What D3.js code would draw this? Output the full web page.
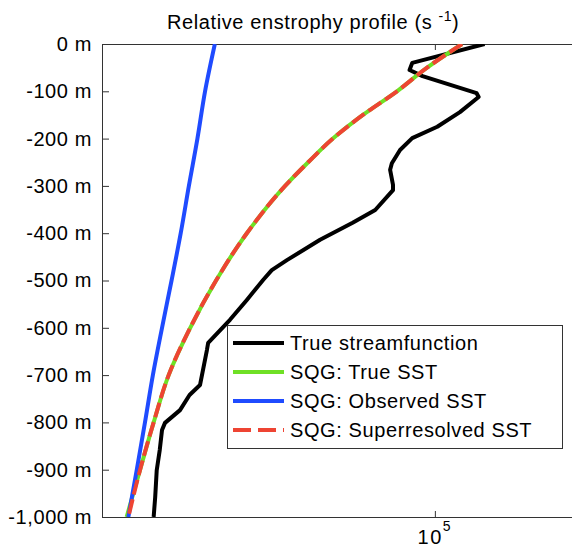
<!DOCTYPE html>
<html>
<head>
<meta charset="utf-8">
<script src="https://cdn.jsdelivr.net/npm/d3@7"></script>
<style>
  body { margin: 0; background: #fff; }
  svg { display: block; }
  text { font-family: "Liberation Sans", Arial, sans-serif; fill: #000; letter-spacing: 0.6px; }
</style>
</head>
<body>
<svg id="chart"></svg>
<script>
// depth (m) and relative enstrophy (s^-1)
const trueDepth = [0, -40, -55, -68, -104, -112, -144, -175, -199, -224, -252, -266, -298, -309, -351, -378, -414, -457, -478, -499, -541, -583, -632, -647, -721, -742, -774, -801, -816, -858, -901, -958, -1000];
const trueValue = [1.23e5, 9.1e4, 9.0e4, 9.5e4, 1.19e5, 1.20e5, 1.11e5, 1.01e5, 9.1e4, 8.65e4, 8.36e4, 8.3e4, 8.4e4, 8.4e4, 7.8e4, 7.1e4, 6.2e4, 5.4e4, 5.07e4, 4.89e4, 4.57e4, 4.26e4, 3.89e4, 3.87e4, 3.76e4, 3.6e4, 3.46e4, 3.25e4, 3.21e4, 3.18e4, 3.14e4, 3.12e4, 3.1e4];

const sqgDepth = [0, -50, -100, -150, -200, -250, -300, -400, -500, -600, -700, -800, -900, -1000];
const sqgTrueValue = [1.12e5, 9.68e4, 8.54e4, 7.41e4, 6.54e4, 5.90e4, 5.36e4, 4.57e4, 4.02e4, 3.61e4, 3.30e4, 3.10e4, 2.93e4, 2.77e4];
const sqgSuperValue = [1.12e5, 9.68e4, 8.54e4, 7.41e4, 6.54e4, 5.90e4, 5.36e4, 4.57e4, 4.02e4, 3.61e4, 3.30e4, 3.10e4, 2.93e4, 2.79e4];

const obsDepth = [0, -100, -200, -300, -400, -500, -600, -700, -800, -900, -1000];
const obsValue = [4.0e4, 3.84e4, 3.72e4, 3.59e4, 3.47e4, 3.34e4, 3.21e4, 3.09e4, 2.99e4, 2.89e4, 2.79e4];

const yTicks = [0, -100, -200, -300, -400, -500, -600, -700, -800, -900, -1000];
const xTicks = [1e5];
const legendNames = ["True streamfunction", "SQG: True SST", "SQG: Observed SST", "SQG: Superresolved SST"];

const width = 572, height = 549;
const margin = { top: 44, right: -4, bottom: 32, left: 102 };

const svg = d3.select("#chart").attr("width", width).attr("height", height);

const x = d3.scaleLog()
    .domain([2.5e4, 1.8e5])
    .range([margin.left, width - margin.right]);

const y = d3.scaleLinear()
    .domain([-1000, 0])
    .range([height - margin.bottom, margin.top]);

svg.append("clipPath").attr("id", "plot-clip")
    .append("rect")
    .attr("x", margin.left).attr("y", margin.top)
    .attr("width", x.range()[1] - margin.left)
    .attr("height", y.range()[0] - margin.top);

// Title
const title = svg.append("text")
    .attr("x", 167)
    .attr("y", 29)
    .attr("font-size", 20);
title.append("tspan").text("Relative enstrophy profile (s ");
title.append("tspan").attr("font-size", 14).attr("dy", -8).text("-1");
title.append("tspan").attr("dy", 8).text(")");

// Y axis
const fmt = d3.format(",");
const yAxis = d3.axisLeft(y)
    .tickValues(yTicks)
    .tickSizeInner(-7)
    .tickSizeOuter(0)
    .tickPadding(10)
    .tickFormat(d => (d < 0 ? "-" : "") + fmt(Math.abs(d)) + " m");

svg.append("g")
    .attr("transform", `translate(${margin.left},0)`)
    .call(yAxis)
    .call(g => g.select(".domain").remove())
    .call(g => g.selectAll(".tick line").attr("stroke", "#333"))
    .call(g => g.selectAll(".tick text")
        .attr("font-size", 20)
        .attr("font-family", null));

// X axis (bottom + top ticks)
const xAxis = d3.axisBottom(x)
    .tickValues(xTicks)
    .tickSizeInner(-6)
    .tickSizeOuter(0)
    .tickFormat("");

svg.append("g")
    .attr("transform", `translate(0,${y.range()[0]})`)
    .call(xAxis)
    .call(g => g.select(".domain").remove())
    .call(g => g.selectAll(".tick line").attr("stroke", "#333"));

svg.append("g")
    .attr("transform", `translate(0,${margin.top})`)
    .call(d3.axisTop(x).tickValues(xTicks).tickSizeInner(-6).tickSizeOuter(0).tickFormat(""))
    .call(g => g.select(".domain").remove())
    .call(g => g.selectAll(".tick line").attr("stroke", "#333"));

xTicks.forEach(t => {
    const lbl = svg.append("text")
        .attr("x", x(t))
        .attr("y", 544)
        .attr("text-anchor", "middle")
        .attr("font-size", 20)
        .style("letter-spacing", "1.5px");
    lbl.append("tspan").text("10");
    lbl.append("tspan").attr("font-size", 14).attr("dy", -13).text(Math.round(Math.log10(t)));
});

// Frame
svg.append("rect")
    .attr("x", margin.left + 0.5)
    .attr("y", margin.top + 0.5)
    .attr("width", x.range()[1] - margin.left)
    .attr("height", y.range()[0] - margin.top)
    .attr("fill", "none")
    .attr("stroke", "#333")
    .attr("stroke-width", 1);

// Lines
const series = [
    { name: legendNames[0], depth: trueDepth, value: trueValue, color: "#000000", width: 4, dash: null, curve: d3.curveLinear },
    { name: legendNames[1], depth: sqgDepth, value: sqgTrueValue, color: "#6fe025", width: 4, dash: null, curve: d3.curveMonotoneY },
    { name: legendNames[2], depth: obsDepth, value: obsValue, color: "#1f4bff", width: 4, dash: null, curve: d3.curveMonotoneY },
    { name: legendNames[3], depth: sqgDepth, value: sqgSuperValue, color: "#ee4433", width: 4, dash: "15,5", curve: d3.curveMonotoneY }
];

const plot = svg.append("g").attr("clip-path", "url(#plot-clip)");

series.forEach(s => {
    const pts = s.depth.map((d, i) => ({ depth: d, value: s.value[i] }));
    const line = d3.line()
        .x(d => x(d.value))
        .y(d => y(d.depth))
        .curve(s.curve);
    plot.append("path")
        .datum(pts)
        .attr("d", line)
        .attr("fill", "none")
        .attr("stroke", s.color)
        .attr("stroke-width", s.width)
        .attr("stroke-linejoin", "round")
        .attr("stroke-dasharray", s.dash);
});

// Legend
const legend = svg.append("g").attr("transform", "translate(227,325)");
legend.append("rect")
    .attr("x", 0.5).attr("y", 0.5)
    .attr("width", 335).attr("height", 123)
    .attr("fill", "#fff")
    .attr("stroke", "#333");

const rowY = d3.scalePoint().domain(legendNames).range([18, 105]);

series.forEach(s => {
    const ly = rowY(s.name);
    legend.append("line")
        .attr("x1", 6).attr("x2", 57)
        .attr("y1", ly).attr("y2", ly)
        .attr("stroke", s.color)
        .attr("stroke-width", 4)
        .attr("stroke-dasharray", s.dash ? "18,7" : null);
    legend.append("text")
        .attr("x", 63)
        .attr("y", ly)
        .attr("dy", "0.36em")
        .attr("font-size", 20)
        .text(s.name);
});
</script>
</body>
</html>
